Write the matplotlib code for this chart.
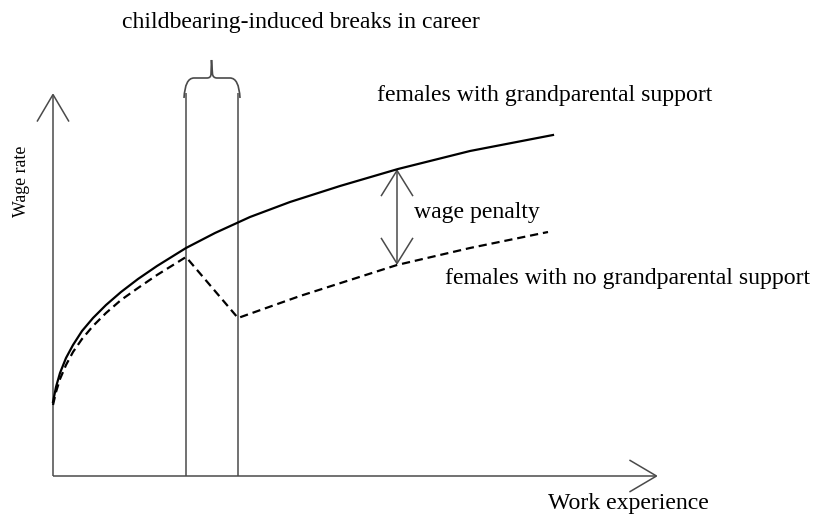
import numpy as np
import matplotlib
matplotlib.use("Agg")
import matplotlib.pyplot as plt
from matplotlib.patches import FancyArrowPatch, PathPatch
from matplotlib.path import Path

# ---- data (schematic units: experience, wage) ----
solid_exp = [0, 3, 7, 13, 20, 29, 40, 53, 68, 85, 104, 133, 162, 197, 237, 287, 345, 417, 500]
solid_wage = [74, 89, 103, 118, 131, 145, 158, 171, 184, 197, 210, 228, 243, 259, 274, 290, 307, 325, 341]

dashed_exp = [0, 3, 7, 13, 20, 29, 40, 53, 68, 85, 104, 133, 185, 247, 344, 417, 495]
dashed_wage = [71, 84, 97, 111, 124, 137, 150, 163, 176, 188, 201, 219, 158, 180, 211, 228, 244]

break_start, break_end = 133, 185
penalty_exp = 344
penalty_top, penalty_bottom = 307, 211
axis_x_max, axis_y_max = 605, 383

title = "childbearing-induced breaks in career"
lab_support = "females with grandparental support"
lab_nosupport = "females with no grandparental support"
lab_penalty = "wage penalty"
xlabel = "Work experience"
ylabel = "Wage rate"

plt.rcParams['font.family'] = ['Liberation Serif', 'DejaVu Serif']

fig = plt.figure(figsize=(8.19, 5.19), dpi=100)
ax = fig.add_axes([0, 0, 1, 1])
ax.set_xlim(-53, 766)
ax.set_ylim(-43, 476)
ax.axis('off')

gray = '#4a4a4a'

# axes with open arrowheads
def arrow(p0, p1, style):
    a = FancyArrowPatch(p0, p1, arrowstyle=style, mutation_scale=1,
                        shrinkA=0, shrinkB=0, color=gray, lw=1.1,
                        joinstyle='miter', capstyle='butt')
    ax.add_patch(a)

arrow((0, 0), (axis_x_max, 0), "->,head_length=19.5,head_width=11.5")
arrow((0, 0), (0, axis_y_max), "->,head_length=19.5,head_width=11.5")

# break lines
for xb in (break_start, break_end):
    ax.plot([xb, xb], [0, axis_y_max], color=gray, lw=1.1, solid_capstyle='butt')

# brace above the break lines
xm = (break_start + break_end) / 2
yb = axis_y_max - 5
yh = axis_y_max + 15
verts = [(break_start - 2, yb), (break_start - 1, yh), (break_start + 8, yh),
         (xm - 5, yh), (xm - 1, yh), (xm - 1, yh + 4), (xm - 0.5, yh + 18),
         (xm + 0.5, yh + 4), (xm + 1, yh), (xm + 5, yh),
         (break_end - 8, yh), (break_end + 1, yh), (break_end + 2, yb)]
codes = [Path.MOVETO, Path.CURVE3, Path.CURVE3,
         Path.LINETO, Path.CURVE3, Path.CURVE3, Path.LINETO,
         Path.LINETO, Path.CURVE3, Path.CURVE3,
         Path.LINETO, Path.CURVE3, Path.CURVE3]
ax.add_patch(PathPatch(Path(verts, codes), fill=False, edgecolor=gray, lw=1.2))

# curves
ax.plot(solid_exp, solid_wage, color='black', lw=1.6, solid_joinstyle='round')
ax.plot(dashed_exp, dashed_wage, color='black', lw=1.6, linestyle=(0, (3.7, 2.2)))

# wage penalty double arrow
arrow((penalty_exp, penalty_bottom), (penalty_exp, penalty_top),
      "<->,head_length=18.5,head_width=11.5")

fs = 17.1
ax.text(248, 448, title, ha='center', va='baseline', fontsize=fs)
ax.text(324, 375, lab_support, ha='left', va='baseline', fontsize=fs)
ax.text(361, 258, lab_penalty, ha='left', va='baseline', fontsize=fs)
ax.text(392, 192, lab_nosupport, ha='left', va='baseline', fontsize=fs)
ax.text(495, -33, xlabel, ha='left', va='baseline', fontsize=fs)
ax.text(-32, 295, ylabel, ha='center', va='center', rotation=90, fontsize=12.8)

fig.savefig('out.png', dpi=100)
